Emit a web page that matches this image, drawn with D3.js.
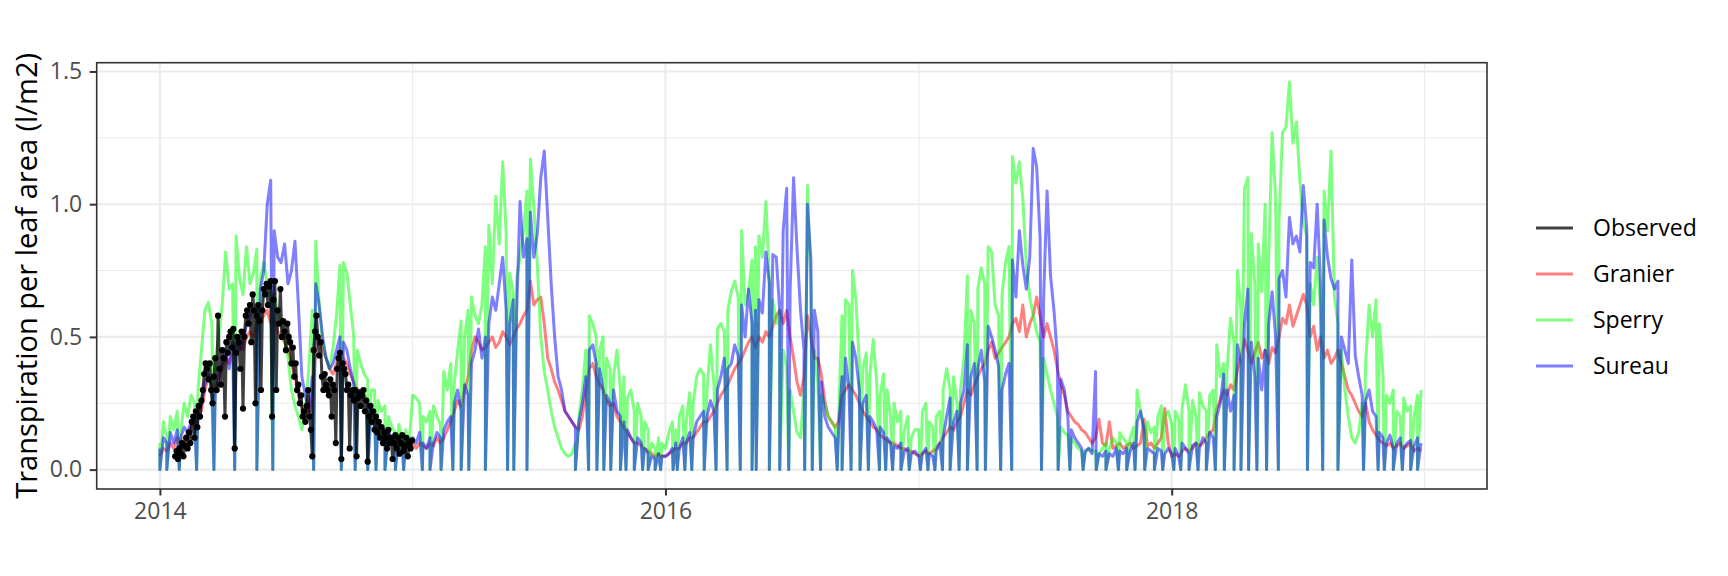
<!DOCTYPE html>
<html>
<head>
<meta charset="utf-8">
<script src="https://d3js.org/d3.v7.min.js"></script>
<style>
    body { margin: 0; background: #ffffff; }
    text { font-family: "Open Sans", sans-serif; }
</style>
</head>
<body>
<div id="chart"></div>
<script>
// model output, one value every 5 days from 1 Jan of each year
var granier2014 = [0.05, 0.08, 0.07, 0.1, 0.08, 0.12, 0.1, 0.12, 0.14, 0.16, 0.18, 0.2,
    0.22, 0.3, 0.35, 0.32, 0.3, 0.34, 0.38, 0.42, 0.4, 0.45, 0.48, 0.46,
    0.45, 0.5, 0.52, 0.5, 0.55, 0.56, 0.58, 0.6, 0.55, 0.56, 0.52, 0.5,
    0.48, 0.45, 0.4, 0.35, 0.28, 0.24, 0.22, 0.2, 0.28, 0.45, 0.5, 0.45,
    0.42, 0.38, 0.36, 0.4, 0.45, 0.42, 0.4, 0.36, 0.33, 0.3, 0.3, 0.28,
    0.26, 0.22, 0.2, 0.18, 0.16, 0.15, 0.13, 0.12, 0.1, 0.11, 0.09, 0.1, 0.08];
var granier2015 = [0.1, 0.08, 0.1, 0.09, 0.08, 0.1, 0.09, 0.12, 0.1, 0.12, 0.15, 0.18,
    0.22, 0.26, 0.24, 0.3, 0.35, 0.45, 0.5, 0.48, 0.45, 0.46, 0.48, 0.5,
    0.46, 0.48, 0.52, 0.5, 0.47, 0.5, 0.53, 0.55, 0.58, 0.6, 0.71, 0.62,
    0.64, 0.65, 0.55, 0.42, 0.38, 0.33, 0.3, 0.26, 0.22, 0.2, 0.18, 0.16,
    0.15, 0.2, 0.3, 0.38, 0.4, 0.35, 0.32, 0.3, 0.26, 0.24, 0.25, 0.2,
    0.18, 0.16, 0.14, 0.12, 0.1, 0.1, 0.09, 0.08, 0.07, 0.06, 0.05, 0.06, 0.05];
var granier2016 = [0.05, 0.06, 0.07, 0.08, 0.08, 0.1, 0.1, 0.12, 0.12, 0.14, 0.16, 0.18,
    0.18, 0.2, 0.22, 0.25, 0.28, 0.3, 0.32, 0.35, 0.38, 0.4, 0.42, 0.45,
    0.48, 0.5, 0.46, 0.5, 0.48, 0.52, 0.5, 0.54, 0.58, 0.6, 0.55, 0.6,
    0.5, 0.42, 0.33, 0.28, 0.35, 0.58, 0.5, 0.42, 0.42, 0.36, 0.26, 0.2,
    0.18, 0.16, 0.18, 0.28, 0.3, 0.32, 0.3, 0.28, 0.25, 0.22, 0.2, 0.18,
    0.16, 0.15, 0.13, 0.12, 0.11, 0.1, 0.1, 0.09, 0.08, 0.08, 0.07, 0.07, 0.06];
var granier2017 = [0.05, 0.06, 0.07, 0.06, 0.07, 0.08, 0.1, 0.12, 0.14, 0.16, 0.15, 0.18,
    0.2, 0.25, 0.3, 0.28, 0.32, 0.35, 0.38, 0.4, 0.45, 0.48, 0.42, 0.44,
    0.46, 0.48, 0.5, 0.55, 0.57, 0.52, 0.62, 0.5, 0.55, 0.58, 0.65, 0.58,
    0.5, 0.55, 0.5, 0.45, 0.38, 0.32, 0.28, 0.22, 0.2, 0.18, 0.17, 0.15,
    0.14, 0.12, 0.1, 0.12, 0.19, 0.1, 0.09, 0.18, 0.08, 0.09, 0.1, 0.08,
    0.09, 0.1, 0.08, 0.09, 0.1, 0.19, 0.09, 0.1, 0.08, 0.1, 0.12, 0.23, 0.1];
var granier2018 = [0.05, 0.06, 0.05, 0.07, 0.08, 0.07, 0.08, 0.1, 0.09, 0.1, 0.12, 0.14,
    0.15, 0.23, 0.26, 0.3, 0.28, 0.32, 0.3, 0.38, 0.42, 0.49, 0.45, 0.4,
    0.44, 0.48, 0.42, 0.45, 0.4, 0.46, 0.44, 0.5, 0.57, 0.55, 0.62, 0.54,
    0.58, 0.62, 0.66, 0.62, 0.5, 0.54, 0.45, 0.5, 0.42, 0.45, 0.4, 0.42,
    0.45, 0.4, 0.35, 0.3, 0.28, 0.25, 0.22, 0.2, 0.25, 0.18, 0.15, 0.13,
    0.11, 0.1, 0.09, 0.1, 0.08, 0.09, 0.1, 0.08, 0.09, 0.1, 0.07, 0.08, 0.07];

var sperry2014 = [0.1, 0.18, 0.12, 0.2, 0.15, 0.22, 0.14, 0.25, 0.2, 0.28, 0.25, 0.3,
    0.45, 0.6, 0.63, 0.55, 0.42, 0.5, 0.62, 0.82, 0.68, 0.7, 0.88, 0.72,
    0.66, 0.84, 0.7, 0.74, 0.83, 0.72, 0.78, 0.7, 0.64, 0.66, 0.6, 0.56,
    0.5, 0.42, 0.3, 0.24, 0.2, 0.15, 0.22, 0.38, 0.6, 0.86, 0.62, 0.48,
    0.42, 0.38, 0.46, 0.58, 0.77, 0.78, 0.74, 0.62, 0.5, 0.45, 0.4, 0.36,
    0.34, 0.3, 0.3, 0.26, 0.22, 0.24, 0.2, 0.16, 0.14, 0.17, 0.12, 0.15, 0.1];
var sperry2015 = [0.28, 0.27, 0.25, 0.2, 0.18, 0.22, 0.24, 0.2, 0.17, 0.37, 0.3, 0.4,
    0.32, 0.45, 0.56, 0.5, 0.6, 0.65, 0.58, 0.55, 0.62, 0.84, 0.92, 0.7,
    1.03, 0.85, 1.16, 0.89, 0.74, 0.67, 0.72, 0.8, 0.9, 1.05, 1.17, 0.99,
    0.77, 0.5, 0.37, 0.3, 0.22, 0.16, 0.12, 0.08, 0.06, 0.05, 0.06, 0.1,
    0.2, 0.3, 0.45, 0.58, 0.55, 0.5, 0.45, 0.5, 0.42, 0.38, 0.35, 0.45,
    0.3, 0.35, 0.27, 0.3, 0.22, 0.25, 0.2, 0.18, 0.15, 0.1, 0.08, 0.12, 0.1];
var sperry2016 = [0.08, 0.14, 0.18, 0.15, 0.2, 0.24, 0.18, 0.29, 0.25, 0.35, 0.38, 0.36,
    0.3, 0.47, 0.32, 0.53, 0.55, 0.52, 0.6, 0.67, 0.71, 0.65, 0.9, 0.62,
    0.67, 0.79, 0.84, 0.88, 0.8, 1.01, 0.72, 0.64, 0.55, 0.6, 0.45, 0.39,
    0.3, 0.22, 0.14, 0.12, 0.3, 1.07, 0.7, 0.45, 0.33, 0.28, 0.25, 0.2,
    0.18, 0.16, 0.2, 0.58, 0.64, 0.62, 0.75, 0.64, 0.4, 0.38, 0.44, 0.35,
    0.49, 0.33, 0.28, 0.36, 0.3, 0.2, 0.25, 0.18, 0.22, 0.15, 0.2, 0.12, 0.15];
var sperry2017 = [0.15, 0.22, 0.25, 0.18, 0.16, 0.2, 0.22, 0.3, 0.38, 0.3, 0.35, 0.25,
    0.3, 0.42, 0.73, 0.6, 0.55, 0.68, 0.76, 0.7, 0.84, 0.82, 0.62, 0.58,
    0.66, 0.78, 0.84, 1.18, 1.08, 1.16, 1.02, 0.77, 0.65, 0.58, 0.52, 0.48,
    0.42, 0.36, 0.3, 0.25, 0.2, 0.16, 0.14, 0.13, 0.12, 0.1, 0.08, 0.07,
    0.06, 0.08, 0.07, 0.07, 0.06, 0.08, 0.1, 0.08, 0.12, 0.1, 0.14, 0.12,
    0.1, 0.12, 0.16, 0.3, 0.22, 0.15, 0.18, 0.14, 0.16, 0.2, 0.24, 0.2, 0.22];
var sperry2018 = [0.17, 0.22, 0.19, 0.23, 0.32, 0.22, 0.26, 0.2, 0.29, 0.24, 0.22, 0.28,
    0.3, 0.47, 0.35, 0.4, 0.38, 0.57, 0.48, 0.75, 0.6, 1.06, 1.1, 0.89,
    0.7, 0.85, 0.67, 1.0, 0.79, 1.27, 1.02, 0.94, 1.27, 1.29, 1.46, 1.23,
    1.31, 1.09, 0.93, 0.88, 0.7, 0.62, 0.8, 0.6, 1.05, 0.9, 1.2, 0.65,
    0.55, 0.45, 0.3, 0.2, 0.12, 0.1, 0.14, 0.25, 0.4, 0.62, 0.5, 0.64,
    0.55, 0.36, 0.28, 0.25, 0.3, 0.22, 0.2, 0.27, 0.22, 0.24, 0.2, 0.28, 0.3];

var sureau2014 = [0.08, 0.12, 0.1, 0.14, 0.1, 0.15, 0.12, 0.16, 0.14, 0.18, 0.2, 0.22,
    0.25, 0.32, 0.36, 0.3, 0.28, 0.35, 0.4, 0.45, 0.38, 0.48, 0.5, 0.45,
    0.48, 0.55, 0.58, 0.6, 0.62, 0.68, 0.75, 1.0, 1.09, 0.9, 0.8, 0.78,
    0.85, 0.7, 0.75, 0.86, 0.62, 0.35, 0.28, 0.22, 0.35, 0.7, 0.62, 0.5,
    0.42, 0.38, 0.4, 0.45, 0.5, 0.48, 0.45, 0.38, 0.32, 0.3, 0.28, 0.26,
    0.25, 0.22, 0.2, 0.18, 0.16, 0.15, 0.14, 0.12, 0.1, 0.12, 0.09, 0.1, 0.08];
var sureau2015 = [0.12, 0.1, 0.14, 0.1, 0.08, 0.12, 0.1, 0.14, 0.12, 0.15, 0.18, 0.2,
    0.25, 0.3, 0.22, 0.32, 0.28, 0.4, 0.45, 0.53, 0.42, 0.5, 0.55, 0.65,
    0.6, 0.7, 0.8, 0.6, 0.55, 0.64, 0.58, 1.01, 0.8, 0.87, 0.97, 0.8,
    0.89, 1.1, 1.2, 0.95, 0.7, 0.5, 0.35, 0.3, 0.22, 0.2, 0.18, 0.16,
    0.18, 0.25, 0.35, 0.45, 0.47, 0.4, 0.38, 0.3, 0.28, 0.25, 0.3, 0.22,
    0.2, 0.18, 0.15, 0.12, 0.1, 0.12, 0.1, 0.08, 0.06, 0.05, 0.04, 0.06, 0.05];
var sureau2016 = [0.05, 0.06, 0.08, 0.1, 0.08, 0.12, 0.1, 0.14, 0.12, 0.18, 0.2, 0.22,
    0.2, 0.26, 0.22, 0.3, 0.35, 0.42, 0.38, 0.4, 0.47, 0.43, 0.62, 0.5,
    0.68, 0.55, 0.6, 0.64, 0.59, 0.82, 0.7, 0.81, 0.8, 0.6, 0.9, 1.06,
    0.67, 1.1, 0.83, 0.6, 0.45, 1.0, 0.79, 0.6, 0.52, 0.33, 0.2, 0.16,
    0.14, 0.12, 0.15, 0.35, 0.42, 0.3, 0.48, 0.42, 0.3, 0.25, 0.28, 0.2,
    0.18, 0.15, 0.16, 0.14, 0.12, 0.1, 0.09, 0.08, 0.1, 0.07, 0.08, 0.06, 0.07];
var sureau2017 = [0.05, 0.06, 0.08, 0.06, 0.05, 0.07, 0.1, 0.12, 0.2, 0.27, 0.18, 0.22,
    0.25, 0.3, 0.47, 0.35, 0.4, 0.38, 0.45, 0.33, 0.54, 0.5, 0.45, 0.39,
    0.3, 0.36, 0.4, 0.79, 0.65, 0.9, 0.77, 0.68, 0.8, 1.21, 1.14, 0.87,
    0.64, 1.05, 0.73, 0.6, 0.42, 0.34, 0.3, 0.2, 0.15, 0.12, 0.1, 0.08,
    0.07, 0.08, 0.06, 0.37, 0.06, 0.05, 0.07, 0.06, 0.05, 0.08, 0.07, 0.06,
    0.08, 0.07, 0.1, 0.18, 0.22, 0.15, 0.08, 0.07, 0.06, 0.08, 0.07, 0.06, 0.08];
var sureau2018 = [0.06, 0.08, 0.05, 0.1, 0.08, 0.06, 0.09, 0.1, 0.08, 0.12, 0.1, 0.14,
    0.12, 0.2, 0.25, 0.36, 0.3, 0.22, 0.28, 0.47, 0.4, 0.55, 0.68, 0.48,
    0.35, 0.42, 0.3, 0.45, 0.55, 0.67, 0.5, 0.72, 0.75, 0.65, 0.95, 0.85,
    0.88, 0.82, 1.07, 0.91, 0.78, 0.76, 1.0, 0.7, 0.94, 0.8, 0.72, 0.68,
    0.71, 0.5, 0.45, 0.4, 0.79, 0.43, 0.35, 0.28, 0.26, 0.3, 0.22, 0.2,
    0.14, 0.12, 0.1, 0.13, 0.08, 0.1, 0.12, 0.08, 0.1, 0.11, 0.09, 0.12, 0.1];

// days of year where Sperry and Sureau drop to ~0 (rain days)
var dips2014 = [0, 10, 28, 53, 78, 108, 140, 163, 222, 262, 282, 300, 312, 325, 340, 352];
var dips2015 = [14, 25, 41, 58, 70, 81, 105, 137, 146, 165, 235, 254, 266, 276, 286, 300, 308, 320, 332, 340, 350, 358];
var dips2016 = [11, 17, 28, 38, 56, 73, 89, 108, 125, 131, 150, 165, 178, 201, 212, 224, 248, 255, 268, 281, 293, 309, 318, 328, 340, 352];
var dips2017 = [2, 13, 23, 34, 45, 58, 70, 84, 96, 118, 134, 177, 201, 218, 237, 256, 270, 288, 300, 312, 326, 340, 352];
var dips2018 = [3, 13, 25, 38, 50, 63, 76, 90, 100, 111, 123, 137, 154, 196, 218, 240, 277, 298, 307, 320, 333, 345, 355];

// observed sap flow 2014, one value every 2 days from 1 Jan (null = no data)
var observed2014 = [null, null, null, null, null, null, null, null, null, null, null,
    0.05, 0.07, 0.04, 0.08, 0.06, 0.1, 0.05, 0.09, 0.12, 0.08,
    0.14, 0.1, 0.18, 0.2, 0.12, 0.22, 0.16, 0.24, 0.2, 0.26,
    0.3, 0.36, 0.4, 0.38, 0.34, 0.4, 0.3, 0.25, 0.35, 0.42,
    0.3, 0.58, 0.38, 0.32, 0.45, 0.42, 0.2, 0.48, 0.44, 0.5,
    0.52, 0.46, 0.53, 0.08, 0.44, 0.5, 0.48, 0.38, 0.52, 0.23,
    0.5, 0.58, 0.6, 0.55, 0.62, 0.48, 0.66, 0.6, 0.25, 0.58,
    0.62, 0.56, 0.3, 0.6, 0.68, 0.66, 0.7, 0.62, 0.69, 0.71,
    0.2, 0.64, 0.71, 0.3, 0.6, 0.55, 0.68, 0.5, 0.56, 0.52,
    0.45, 0.55, 0.5, 0.48, 0.4, 0.46, 0.35, 0.4, 0.3, 0.32,
    0.25, 0.28, 0.2, 0.22, 0.18, 0.24, 0.3, 0.2, 0.15, 0.05,
    0.45, 0.52, 0.58, 0.5, 0.43, 0.48, 0.35, 0.3, 0.36, 0.32,
    0.3, 0.28, 0.34, 0.2, 0.32, 0.3, 0.1, 0.38, 0.42, 0.44,
    0.04, 0.4, 0.38, 0.36, 0.3, 0.32, 0.08, 0.28, 0.3, 0.26,
    0.3, 0.05, 0.27, 0.29, 0.24, 0.28, 0.3, 0.22, 0.26, 0.03,
    0.2, 0.24, 0.18, 0.22, 0.15, 0.2, 0.14, 0.18, 0.12, 0.16,
    0.1, 0.14, 0.12, 0.08, 0.15, 0.1, 0.12, 0.04, 0.1, 0.13,
    0.08, 0.12, 0.06, 0.1, 0.13, 0.07, 0.09, 0.12, 0.05, 0.1, 0.08, 0.11];

var years = [2014, 2015, 2016, 2017, 2018];
var yTicks = [0, 0.5, 1.0, 1.5];
var yMinorTicks = [0.25, 0.75, 1.25];
var xTickYears = [2014, 2016, 2018];
var xMinorYears = [2015, 2017, 2019];
var legendLabels = ["Observed", "Granier", "Sperry", "Sureau"];

var stepDays = 5;
var obsStepDays = 2;

var chartGroup;
var xScale;
var yScale;

var margin = {
    top: 62.7,
    right: 241,
    bottom: 87,
    left: 96.7
};

var canvas = {
    screenHeight: 576,
    screenWidth: 1728,
    chartHeight: 0,
    chartWidth: 0
};

var svg;

function yearStart(year) {
    return new Date(Date.UTC(year, 0, 1));
}

// sampled values plus (optionally) the zero dips, in date order
function buildSeries(valuesByYear, dipsByYear) {
    var pts = [];
    years.forEach(function (yr, k) {
        var start = yearStart(yr);
        valuesByYear[k].forEach(function (v, i) {
            pts.push({date: d3.utcDay.offset(start, i * stepDays), value: v});
        });
        if (dipsByYear) {
            dipsByYear[k].forEach(function (d) {
                pts.push({date: d3.utcDay.offset(start, d), value: 0});
            });
        }
    });
    pts.sort(function (a, b) { return a.date - b.date; });
    return pts;
}

function setCanvas() {
    canvas.chartHeight = canvas.screenHeight - margin.top - margin.bottom;
    canvas.chartWidth = canvas.screenWidth - margin.left - margin.right;

    svg = d3.select("#chart").append("svg")
        .attr("height", canvas.screenHeight)
        .attr("width", canvas.screenWidth)
        .style("background", "#ffffff");

    chartGroup = svg.append("g")
        .attr("transform", `translate(${margin.left}, ${margin.top})`);
}

function setAxis(allValues) {
    // ggplot style 5% expansion on both axes
    var t0 = yearStart(2014);
    var t1 = new Date(Date.UTC(2018, 11, 31));
    var pad = canvas.chartWidth / 1.1 * 0.05;
    xScale = d3.scaleUtc()
        .domain([t0, t1])
        .range([pad, canvas.chartWidth - pad]);

    var yMax = d3.max(allValues);
    yScale = d3.scaleLinear()
        .domain([-0.05 * yMax, 1.05 * yMax])
        .range([canvas.chartHeight, 0]);

    // grid
    var grid = chartGroup.append("g");
    grid.selectAll(".ymin").data(yMinorTicks).enter().append("line")
        .attr("x1", 0).attr("x2", canvas.chartWidth)
        .attr("y1", d => yScale(d)).attr("y2", d => yScale(d))
        .attr("stroke", "#ebebeb").attr("stroke-width", 1.1);
    grid.selectAll(".xmin").data(xMinorYears).enter().append("line")
        .attr("x1", d => xScale(yearStart(d))).attr("x2", d => xScale(yearStart(d)))
        .attr("y1", 0).attr("y2", canvas.chartHeight)
        .attr("stroke", "#ebebeb").attr("stroke-width", 1.1);
    grid.selectAll(".ymaj").data(yTicks).enter().append("line")
        .attr("x1", 0).attr("x2", canvas.chartWidth)
        .attr("y1", d => yScale(d)).attr("y2", d => yScale(d))
        .attr("stroke", "#ebebeb").attr("stroke-width", 2.1);
    grid.selectAll(".xmaj").data(xTickYears).enter().append("line")
        .attr("x1", d => xScale(yearStart(d))).attr("x2", d => xScale(yearStart(d)))
        .attr("y1", 0).attr("y2", canvas.chartHeight)
        .attr("stroke", "#ebebeb").attr("stroke-width", 2.1);

    var yAxis = d3.axisLeft(yScale)
        .tickValues(yTicks)
        .tickFormat(d3.format(".1f"))
        .tickSize(7)
        .tickPadding(7.5);
    var xAxis = d3.axisBottom(xScale)
        .tickValues(xTickYears.map(yearStart))
        .tickFormat(d3.utcFormat("%Y"))
        .tickSize(6.5)
        .tickPadding(7.5);

    var gy = chartGroup.append("g").call(yAxis);
    var gx = chartGroup.append("g")
        .attr("transform", `translate(0, ${canvas.chartHeight})`)
        .call(xAxis);

    [gx, gy].forEach(function (g) {
        g.select(".domain").remove();
        g.attr("font-family", null).attr("font-size", null);
        g.selectAll(".tick line").attr("stroke", "#333333").attr("stroke-width", 2);
        g.selectAll(".tick text")
            .attr("fill", "#4d4d4d")
            .style("font-size", "23px")
            .style("font-family", "'Open Sans', sans-serif");
    });

    // y axis title
    svg.append("text")
        .attr("transform", `translate(36.5, ${margin.top + canvas.chartHeight / 2}) rotate(-90)`)
        .attr("text-anchor", "middle")
        .attr("fill", "#000000")
        .style("font-size", "29px")
        .text("Transpiration per leaf area (l/m2)");
}

function createChart(models, observed) {
    svg.append("defs").append("clipPath").attr("id", "panel-clip")
        .append("rect")
        .attr("width", canvas.chartWidth)
        .attr("height", canvas.chartHeight);

    var plot = chartGroup.append("g").attr("clip-path", "url(#panel-clip)");

    var line = d3.line()
        .defined(d => d.value !== null)
        .x(d => xScale(d.date))
        .y(d => yScale(d.value));

    models.forEach(function (m) {
        plot.append("path")
            .datum(m.points)
            .attr("fill", "none")
            .attr("stroke", m.color)
            .attr("stroke-opacity", 0.5)
            .attr("stroke-width", 3)
            .attr("stroke-linejoin", "round")
            .attr("d", line);
    });

    plot.append("path")
        .datum(observed)
        .attr("fill", "none")
        .attr("stroke", "#000000")
        .attr("stroke-opacity", 0.75)
        .attr("stroke-width", 3)
        .attr("stroke-linejoin", "round")
        .attr("d", line);

    plot.selectAll("circle")
        .data(observed.filter(d => d.value !== null))
        .enter()
        .append("circle")
        .attr("cx", d => xScale(d.date))
        .attr("cy", d => yScale(d.value))
        .attr("r", 3.1)
        .attr("fill", "#000000");

    // panel border on top
    chartGroup.append("rect")
        .attr("width", canvas.chartWidth)
        .attr("height", canvas.chartHeight)
        .attr("fill", "none")
        .attr("stroke", "#333333")
        .attr("stroke-width", 1.6);

    // legend
    var keyColors = [["#000000", 0.75], ["#ff0000", 0.5], ["#00ff00", 0.5], ["#0000ff", 0.5]];
    var legend = svg.append("g").attr("transform", "translate(1536, 228)");
    legendLabels.forEach(function (label, i) {
        var row = legend.append("g").attr("transform", `translate(0, ${i * 46})`);
        row.append("line")
            .attr("x1", 0).attr("x2", 37)
            .attr("stroke", keyColors[i][0])
            .attr("stroke-opacity", keyColors[i][1])
            .attr("stroke-width", 3);
        row.append("text")
            .attr("x", 57)
            .attr("y", 8.2)
            .attr("fill", "#000000")
            .style("font-size", "23px")
            .text(label);
    });
}

setCanvas();

var granierYears = [granier2014, granier2015, granier2016, granier2017, granier2018];
var sperryYears = [sperry2014, sperry2015, sperry2016, sperry2017, sperry2018];
var sureauYears = [sureau2014, sureau2015, sureau2016, sureau2017, sureau2018];
var dipYears = [dips2014, dips2015, dips2016, dips2017, dips2018];

// Granier keeps transpiring on the rain days, only the other two drop
var models = [
    {name: "Granier", color: "#ff0000", points: buildSeries(granierYears, null)},
    {name: "Sperry", color: "#00ff00", points: buildSeries(sperryYears, dipYears)},
    {name: "Sureau", color: "#0000ff", points: buildSeries(sureauYears, dipYears)}
];

var observed = observed2014.map(function (v, j) {
    return {date: d3.utcDay.offset(yearStart(2014), j * obsStepDays), value: v};
});

var allValues = [].concat(granierYears.flat(), sperryYears.flat(), sureauYears.flat(),
    observed2014.filter(v => v !== null));

setAxis(allValues);
createChart(models, observed);
</script>
</body>
</html>
